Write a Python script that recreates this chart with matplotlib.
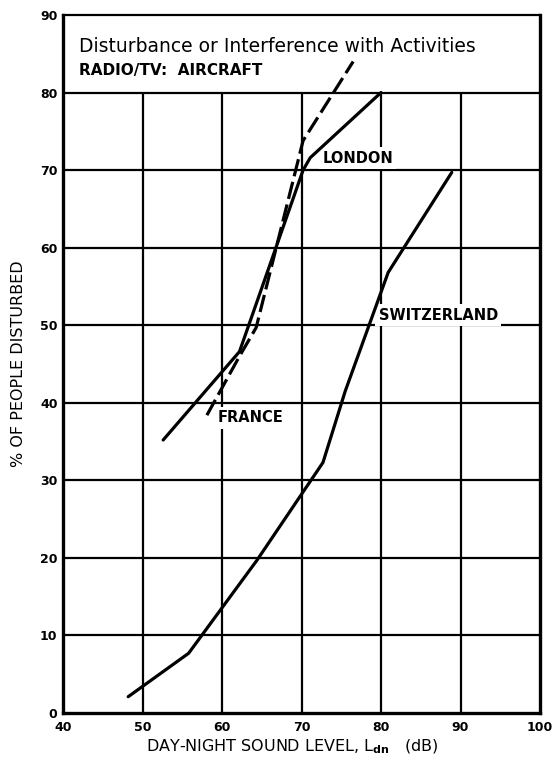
import matplotlib
matplotlib.use("Agg")
import matplotlib.pyplot as plt

# ---- data ----
x_ticks = [40, 50, 60, 70, 80, 90, 100]
y_ticks = [0, 10, 20, 30, 40, 50, 60, 70, 80, 90]

london_x = [52.6, 62.2, 70.2, 71.1, 80.0]
london_y = [35.2, 46.6, 70.0, 71.6, 80.0]

france_x = [58.1, 62.2, 64.3, 70.2, 76.5]
france_y = [38.4, 46.0, 49.7, 73.8, 84.0]

swiss_x = [48.2, 55.8, 64.4, 72.7, 75.5, 80.9, 88.9]
swiss_y = [2.1, 7.7, 19.7, 32.3, 41.5, 56.8, 69.7]

title = "Disturbance or Interference with Activities"
subtitle = "RADIO/TV:  AIRCRAFT"
xlabel = "DAY-NIGHT SOUND LEVEL, L$_{\\mathbf{dn}}$   (dB)"
ylabel = "% OF PEOPLE DISTURBED"

plt.rcParams['font.family'] = ['DejaVu Sans']
plt.rcParams['mathtext.fontset'] = 'dejavusans'

fig = plt.figure(figsize=(5.52, 7.60), dpi=100)
ax = fig.add_axes([63/552, 1-713/760, (540-63)/552, (713-15)/760])

ax.set_xlim(40, 100)
ax.set_ylim(0, 90)

# grid: verticals stop at 80 (header box above)
for xv in x_ticks[1:-1]:
    ax.plot([xv, xv], [0, 80], color='black', lw=1.6, zorder=1, solid_capstyle='butt')
for yv in y_ticks[1:-1]:
    ax.plot([40, 100], [yv, yv], color='black', lw=1.6, zorder=1, solid_capstyle='butt')

# curves
ax.plot(london_x, london_y, color='black', lw=2.3, zorder=3, solid_capstyle='round')
ax.plot(swiss_x, swiss_y, color='black', lw=2.3, zorder=3, solid_capstyle='round')
ax.plot(france_x, france_y, color='black', lw=2.3, zorder=3, dashes=(5.5, 1.8))

# labels with white background
lab_kw = dict(fontsize=10.5, fontweight='bold', va='center', ha='left', zorder=2,
              bbox=dict(facecolor='white', edgecolor='none', pad=2.5))
ax.text(72.6, 71.5, "LONDON", **lab_kw)
ax.text(59.4, 38.1, "FRANCE", **lab_kw)
ax.text(79.7, 51.3, "SWITZERLAND", **lab_kw)

# header text
ax.text(42.0, 86.0, title, fontsize=13.5, fontweight='medium', va='center', ha='left')
ax.text(42.0, 82.9, subtitle, fontsize=11, fontweight='bold', va='center', ha='left')

# spines
for side in ['left', 'bottom', 'right']:
    ax.spines[side].set_linewidth(2.4)
ax.spines['top'].set_linewidth(1.6)

ax.set_xticks(x_ticks)
ax.set_yticks(y_ticks)
ax.tick_params(axis='y', length=0, pad=4, labelsize=9)
ax.tick_params(axis='x', length=0, pad=6, labelsize=9)
for lbl in ax.get_xticklabels() + ax.get_yticklabels():
    lbl.set_fontweight('bold')

ax.set_xlabel(xlabel, fontsize=11.5, fontweight='medium', labelpad=3)
ax.xaxis.set_label_coords(0.48, -0.035)
ax.set_ylabel(ylabel, fontsize=11.5, fontweight='medium', labelpad=10)

fig.savefig("out.png", dpi=100, facecolor='white')
